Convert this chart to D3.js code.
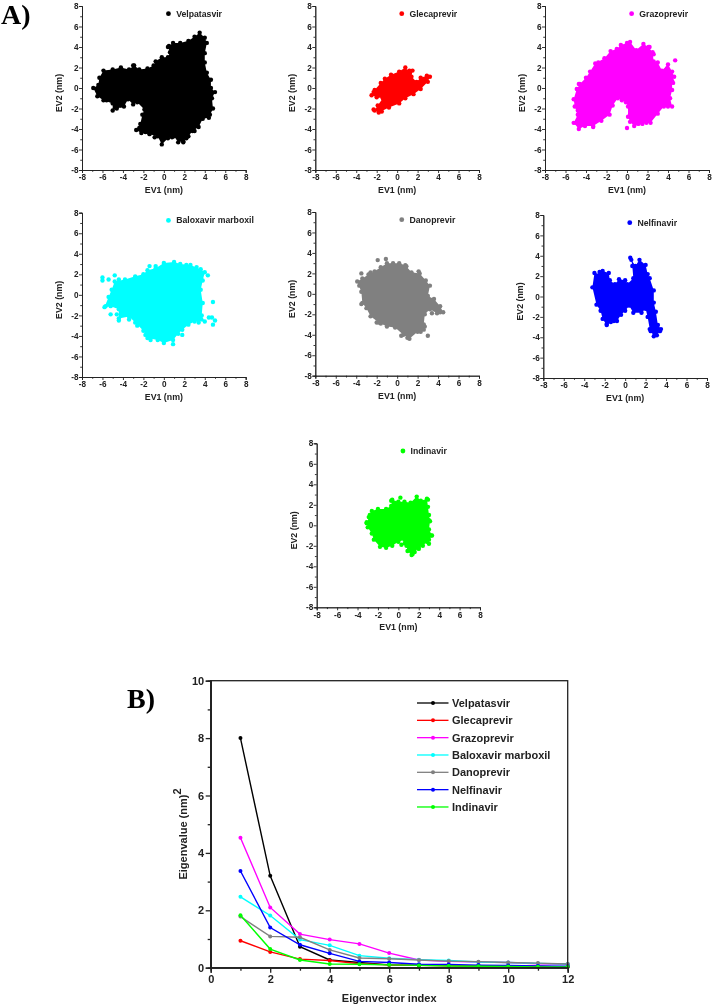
<!DOCTYPE html>
<html><head><meta charset="utf-8">
<script src="https://cdn.jsdelivr.net/npm/d3@7"></script>
<style>
html,body{margin:0;padding:0;background:#fff}
svg{display:block;filter:blur(0.35px)}
text{font-family:"Liberation Sans",Arial,sans-serif;font-weight:bold;fill:#222}
.tag{font-family:"Liberation Serif","Times New Roman",serif;font-size:28px;fill:#000}
</style></head><body>
<svg id="c" width="712" height="1007"></svg>
<script>
const names=["Velpatasvir","Glecaprevir","Grazoprevir","Baloxavir marboxil","Danoprevir","Nelfinavir","Indinavir"];
const colors=["#000000","#ff0000","#ff00ff","#00ffff","#808080","#0000ff","#00ff00"];
// Outline of each projection cloud (EV1, EV2 in nm)
const velpatasvirEdge=[[-6.9,0],[-6.4,0.3],[-6.3,1],[-5.9,1.7],[-5,1.8],[-4.2,2],[-3.4,1.8],[-2.9,2.2],[-2.4,1.8],[-1.6,1.9],[-1,2.2],[-0.8,2.6],[-0.2,3],[0.4,3],[0.6,3.5],[0.4,4],[0.9,4.4],[1.6,4.4],[2.4,4.6],[3,5],[3.5,5.4],[4,4.9],[4.2,4.4],[4,3.4],[4,2.5],[4.2,1.5],[4.6,0.8],[4.6,0],[5,-0.4],[4.7,-1],[4.8,-2],[4.4,-2.9],[3.8,-3],[3.4,-3.8],[2.8,-4.2],[2.4,-4.7],[1.9,-5.2],[1.4,-5.3],[1,-4.7],[0.4,-4.9],[-0.2,-5.5],[-0.6,-4.7],[-1.4,-4.5],[-2.2,-4.4],[-2.7,-4.1],[-2.3,-3.5],[-2.1,-2.6],[-1.9,-2.1],[-2.6,-1.4],[-3,-1.6],[-3.5,-1.1],[-3.9,-1.8],[-4.6,-2],[-5,-2.2],[-5,-1.5],[-5.9,-1.2],[-6.5,-0.8]];
const glecaprevirEdge=[[-2.5,-0.7],[-2.2,-0.2],[-1.6,0.5],[-1.2,0.9],[-0.6,1.3],[0.2,1.6],[0.8,2],[1.1,1.6],[1.5,1.7],[1.4,1.1],[1.9,0.6],[2.3,1],[2.9,1.2],[3.2,1.1],[3,0.6],[2.3,-0.1],[1.6,-0.6],[0.8,-1],[0.2,-1.5],[-0.8,-1.9],[-1.8,-2.4],[-2.2,-2.2],[-1.9,-1.7],[-1.4,-1],[-2,-0.9]];
const grazoprevirEdge=[[-5.2,-1.1],[-4.9,-0.1],[-4.6,0.4],[-4,1],[-3.6,1.6],[-3.1,2.4],[-2.2,2.9],[-1.6,3.6],[-1,3.8],[-0.6,4.2],[0,4.4],[0.3,4.5],[0.9,3.7],[1.6,4.3],[2.1,4],[2.5,3.5],[2.6,2.6],[3,2.5],[3.4,1.7],[4,2.3],[4.4,1.6],[4.6,1.1],[4.4,0.7],[4.4,-0.2],[4.2,-1],[4.4,-1.8],[3.6,-1.8],[3,-2.5],[2.3,-3.4],[1.5,-3.5],[0.7,-3.7],[0.3,-3.3],[0.1,-2.8],[0.1,-1.8],[-0.1,-1.4],[-0.5,-1.2],[-0.9,-1],[-1.4,-1.7],[-1.7,-2.6],[-2.5,-3.2],[-3.3,-3.7],[-4.1,-3.7],[-4.7,-4],[-5.2,-3.4],[-4.8,-2.6],[-5.1,-1.8]];
const baloxavirEdge=[[-5.8,-1.2],[-5.4,-0.2],[-5.1,0.5],[-4.8,1.3],[-3.8,1.5],[-2.8,1.8],[-2,2],[-1.6,2.4],[-0.8,2.6],[0,3.1],[1,3.2],[1.6,3],[2.6,2.9],[3.6,2.5],[4,2.2],[3.8,1.4],[3.6,0.5],[3.8,-0.8],[3.7,-2],[4,-2.6],[3,-2.6],[2.4,-2.9],[1.8,-3.4],[1.4,-3.8],[0.9,-4.4],[0,-4.7],[-0.6,-4.4],[-1.6,-4.2],[-2,-3.5],[-2.8,-2.7],[-3.4,-2.1],[-4.4,-2.3],[-4.4,-1.4],[-5.2,-1.1]];
const danoprevirEdge=[[-3.9,1.2],[-3.4,1.5],[-2.8,1.9],[-2.2,2.2],[-1.6,2.6],[-1,3],[-0.4,3],[0.2,3],[0.8,2.8],[1.4,2.1],[2.2,2],[2.8,1.3],[3.2,0.8],[3,-0.2],[3.6,-0.5],[4.2,-1.2],[4.5,-1.8],[3.9,-1.9],[3.2,-1.5],[2.7,-2],[2.6,-3],[2.6,-3.5],[2,-3.7],[1.2,-4.4],[0.6,-4],[-0.2,-3.3],[-1,-3.2],[-1.8,-2.8],[-2.6,-2.2],[-3,-1.4],[-3.4,-0.9],[-3.5,0.2]];
const nelfinavirEdge=[[-3.2,0.9],[-3,2.3],[-2.4,2.2],[-2.2,2.5],[-1.6,2.3],[-1.5,1.6],[-1,1.2],[-0.6,1.7],[0,1.6],[0.2,1.2],[0.8,1.8],[0.7,3],[0.6,3.6],[1,3],[1.4,3.6],[2,3.1],[2.2,2.2],[2.4,1.8],[2.8,0.6],[2.8,-0.6],[3,-1.5],[3.2,-2.8],[3.5,-3.2],[3.1,-3.8],[2.8,-3.9],[2.4,-3.2],[2.2,-2],[2,-1.2],[1.6,-1.6],[0.8,-1.6],[0.4,-0.9],[0,-1.4],[-0.4,-1.8],[-0.8,-2.4],[-1.4,-2.5],[-1.8,-2.8],[-2.2,-2.2],[-2.4,-1.4],[-2.8,-0.8]];
const indinavirEdge=[[-3.1,0.2],[-2.8,1],[-2.6,1.4],[-2,1.6],[-1.2,1.6],[-0.7,1.9],[-0.6,2.5],[0,2.3],[0.6,2.3],[1.2,2.2],[1.8,2.8],[2.2,2.4],[2.8,2.6],[2.9,1.8],[3,1],[3.1,0.4],[3,-0.4],[3.3,-1],[3,-1.4],[2.8,-1.6],[2.4,-2],[2,-2.2],[1.6,-2.6],[1.3,-2.9],[0.9,-2.5],[0.8,-2],[0.3,-1.9],[0.6,-1.4],[0,-1.6],[-0.6,-2],[-1.2,-2.2],[-1.8,-2.1],[-2.4,-1.4],[-2.6,-0.8],[-3,-0.2]];
const edges=[velpatasvirEdge,glecaprevirEdge,grazoprevirEdge,baloxavirEdge,danoprevirEdge,nelfinavirEdge,indinavirEdge];
// Separate points on or outside each outline
const velpatasvirStray=[[-3,2.2],[1.9,-5.3],[0.5,4.1],[-5.6,-1.2],[-4.7,-1.9],[-4.2,-1.7],[-6.2,-0.5],[-2.4,-3.9],[-1.8,-4.3],[-0.9,-4.8],[0.8,-4.8],[2.2,-4.9],[3,-4.2],[4.5,-2.6]];
const glecaprevirStray=[[1.2,1.7],[-2.3,-2.1],[-1.5,-2.3],[-2.3,-0.4]];
const grazoprevirStray=[[4.7,2.7],[0,-3.9],[2.2,4],[2.6,3.3],[4,-1.8],[-4.8,-2.2],[-5,-3.4],[-4.4,-3.6],[-3.3,-3.8],[1.1,-3.5],[1.9,-3.4],[-4.7,0.4],[-2.8,2.5],[-4.5,-0.3],[4.2,1.3],[4.5,0.5],[3.9,1.9]];
const baloxavirStray=[[-6,1.7],[-6,1.4],[-5.4,1.5],[-4.8,1.9],[-5.2,-1.9],[-4.4,-2.5],[4.3,1.9],[4.8,-0.7],[4.4,-2.2],[4.7,-2.2],[5,-2.5],[4.8,-2.9],[0.9,-4.8],[1.8,-3.9],[-4.6,-1.9],[-3.4,-2.4],[-2.6,-3],[-1.8,-3.9],[-1.3,-4.4],[3.4,-2.7],[-5.7,-1.1],[-4.4,1.5],[-1.4,2.8],[-0.8,2.8],[2.2,2.9],[3.2,2.7]];
const danoprevirStray=[[-1.9,3.3],[-1.1,3.4],[-3.5,2],[3,-4.1],[2.3,-3.7],[3.4,-1.9],[2.1,2.2],[-3.7,0.8],[-3.5,-1],[-2,-2.8],[-1.6,-2.9],[0.4,-4.1],[1,-4.3],[2.7,-3.2],[4.2,-1.8],[-2.6,2.1],[0.9,2.7]];
const nelfinavirStray=[[0.5,3.8],[-2.5,2.4],[-1.8,-2.7],[-1.1,-2.4],[2.5,-3.4],[3.4,-3.4]];
const indinavirStray=[[3,-1.8],[0.2,2.7],[-3.1,0.3],[-2.9,0.8],[1.4,-2.8],[2,-2.3],[-0.7,2.4],[2.9,2.5],[3.2,-1],[3,0.5]];
const strays=[velpatasvirStray,glecaprevirStray,grazoprevirStray,baloxavirStray,danoprevirStray,nelfinavirStray,indinavirStray];
// Eigenvalues, index 1..12
const eigenIndex=[1,2,3,4,5,6,7,8,9,10,11,12];
const velpatasvirEig=[8,3.2,0.73,0.27,0.18,0.1,0.09,0.08,0.06,0.05,0.04,0.03];
const glecaprevirEig=[0.94,0.55,0.3,0.25,0.14,0.1,0.08,0.07,0.06,0.05,0.04,0.03];
const grazoprevirEig=[4.53,2.1,1.17,0.98,0.83,0.51,0.27,0.22,0.2,0.18,0.14,0.12];
const baloxavirEig=[2.47,1.82,0.98,0.78,0.42,0.33,0.28,0.25,0.2,0.18,0.15,0.13];
const danoprevirEig=[1.78,1.09,1.06,0.62,0.34,0.31,0.27,0.23,0.21,0.18,0.16,0.13];
const nelfinavirEig=[3.37,1.4,0.8,0.5,0.22,0.18,0.12,0.11,0.09,0.08,0.06,0.05];
const indinavirEig=[1.83,0.65,0.27,0.13,0.12,0.1,0.08,0.06,0.05,0.04,0.03,0.03];
const eigs=[velpatasvirEig,glecaprevirEig,grazoprevirEig,baloxavirEig,danoprevirEig,nelfinavirEig,indinavirEig];
const evTicks=[-8,-6,-4,-2,0,2,4,6,8];
const evMinor=[-7,-5,-3,-1,1,3,5,7];

const svg=d3.select("#c");
const boxes=[[82,245.7,6,170],[315.3,479,6,170],[545,709,6,170],[82,245.7,212.7,377],[315.3,479,212,375.7],[543.3,707,215,378],[316.7,480,443.3,607.3]];
const tickText=d=>String(d);

function axes(g,x,y,xt,xm,yt,ym,l,w,fs,pad){
  const sty=(a)=>{a.selectAll("path,line").attr("stroke","#222").attr("stroke-width",w);
    a.selectAll("text").style("font-size",fs+"px");};
  g.append("g").attr("transform",`translate(0,${y.range()[0]})`).call(d3.axisBottom(x).tickValues(xm).tickSize(l*0.6).tickFormat("")).call(sty);
  g.append("g").attr("transform",`translate(${x.range()[0]},0)`).call(d3.axisLeft(y).tickValues(ym).tickSize(l*0.6).tickFormat("")).call(sty);
  g.append("g").attr("transform",`translate(0,${y.range()[0]})`).call(d3.axisBottom(x).tickValues(xt).tickSize(l).tickPadding(pad).tickFormat(tickText)).call(sty);
  g.append("g").attr("transform",`translate(${x.range()[0]},0)`).call(d3.axisLeft(y).tickValues(yt).tickSize(l).tickPadding(pad-1).tickFormat(tickText)).call(sty);
}

names.forEach((name,i)=>{
  const [x0,x1,y0,y1]=boxes[i];
  const x=d3.scaleLinear().domain([-8,8]).range([x0,x1]);
  const y=d3.scaleLinear().domain([-8,8]).range([y1,y0]);
  const g=svg.append("g");
  g.append("path").attr("d",d3.line().x(d=>x(d[0])).y(d=>y(d[1])).curve(d3.curveLinearClosed)(edges[i])).attr("fill",colors[i]);
  g.selectAll("circle.p").data(edges[i].concat(strays[i])).join("circle").attr("class","p")
    .attr("cx",d=>x(d[0])).attr("cy",d=>y(d[1])).attr("r",2.2).attr("fill",colors[i]);
  axes(g,x,y,evTicks,evMinor,evTicks,evMinor,3,0.9,8.2,1.5);
  g.append("text").attr("x",(x0+x1)/2).attr("y",y1+23).attr("text-anchor","middle").style("font-size","8.8px").text("EV1 (nm)");
  g.append("text").attr("transform",`translate(${x0-20},${(y0+y1)/2+5}) rotate(-90)`).attr("text-anchor","middle").style("font-size","8.8px").text("EV2 (nm)");
  g.append("circle").attr("cx",x(0.45)).attr("cy",y(7.25)).attr("r",2.4).attr("fill",colors[i]);
  g.append("text").attr("x",x(1.2)).attr("y",y(7.25)+3).style("font-size","8.7px").text(name);
});

svg.append("text").attr("class","tag").attr("x",1).attr("y",24).text("A)");
svg.append("text").attr("class","tag").attr("x",127).attr("y",708).text("B)");

// Panel B
const bx=d3.scaleLinear().domain([0,12]).range([210.7,567.7]);
const by=d3.scaleLinear().domain([0,10]).range([967.7,680.7]);
const b=svg.append("g");
const bl=d3.line().x((d,j)=>bx(eigenIndex[j])).y(d=>by(d));
names.forEach((n,i)=>{
  b.append("path").attr("d",bl(eigs[i])).attr("fill","none").attr("stroke",colors[i]).attr("stroke-width",1.4);
  b.selectAll(null).data(eigs[i]).join("circle").attr("cx",(d,j)=>bx(eigenIndex[j])).attr("cy",d=>by(d)).attr("r",2).attr("fill",colors[i]);
});
b.append("rect").attr("x",bx(0)).attr("y",by(10)).attr("width",bx(12)-bx(0)).attr("height",by(0)-by(10)).attr("fill","none").attr("stroke","#222").attr("stroke-width",1.3);
axes(b,bx,by,[0,2,4,6,8,10,12],[1,3,5,7,9,11],[0,2,4,6,8,10],[1,3,5,7,9],5,1.3,11,2.5);
b.append("text").attr("x",bx(6)).attr("y",1002).attr("text-anchor","middle").style("font-size","11px").text("Eigenvector index");
const yt=b.append("text").attr("transform","translate(187,834) rotate(-90)").attr("text-anchor","middle").style("font-size","11px");
yt.append("tspan").text("Eigenvalue (nm)");
yt.append("tspan").attr("dy",-6).style("font-size","11px").text("2");
names.forEach((n,i)=>{
  const yy=703+i*17.33;
  b.append("line").attr("x1",417).attr("x2",448.5).attr("y1",yy).attr("y2",yy).attr("stroke",colors[i]).attr("stroke-width",1.3);
  b.append("circle").attr("cx",433).attr("cy",yy).attr("r",2).attr("fill",colors[i]);
  b.append("text").attr("x",452).attr("y",yy+4).style("font-size","11px").text(n);
});
</script></body></html>
